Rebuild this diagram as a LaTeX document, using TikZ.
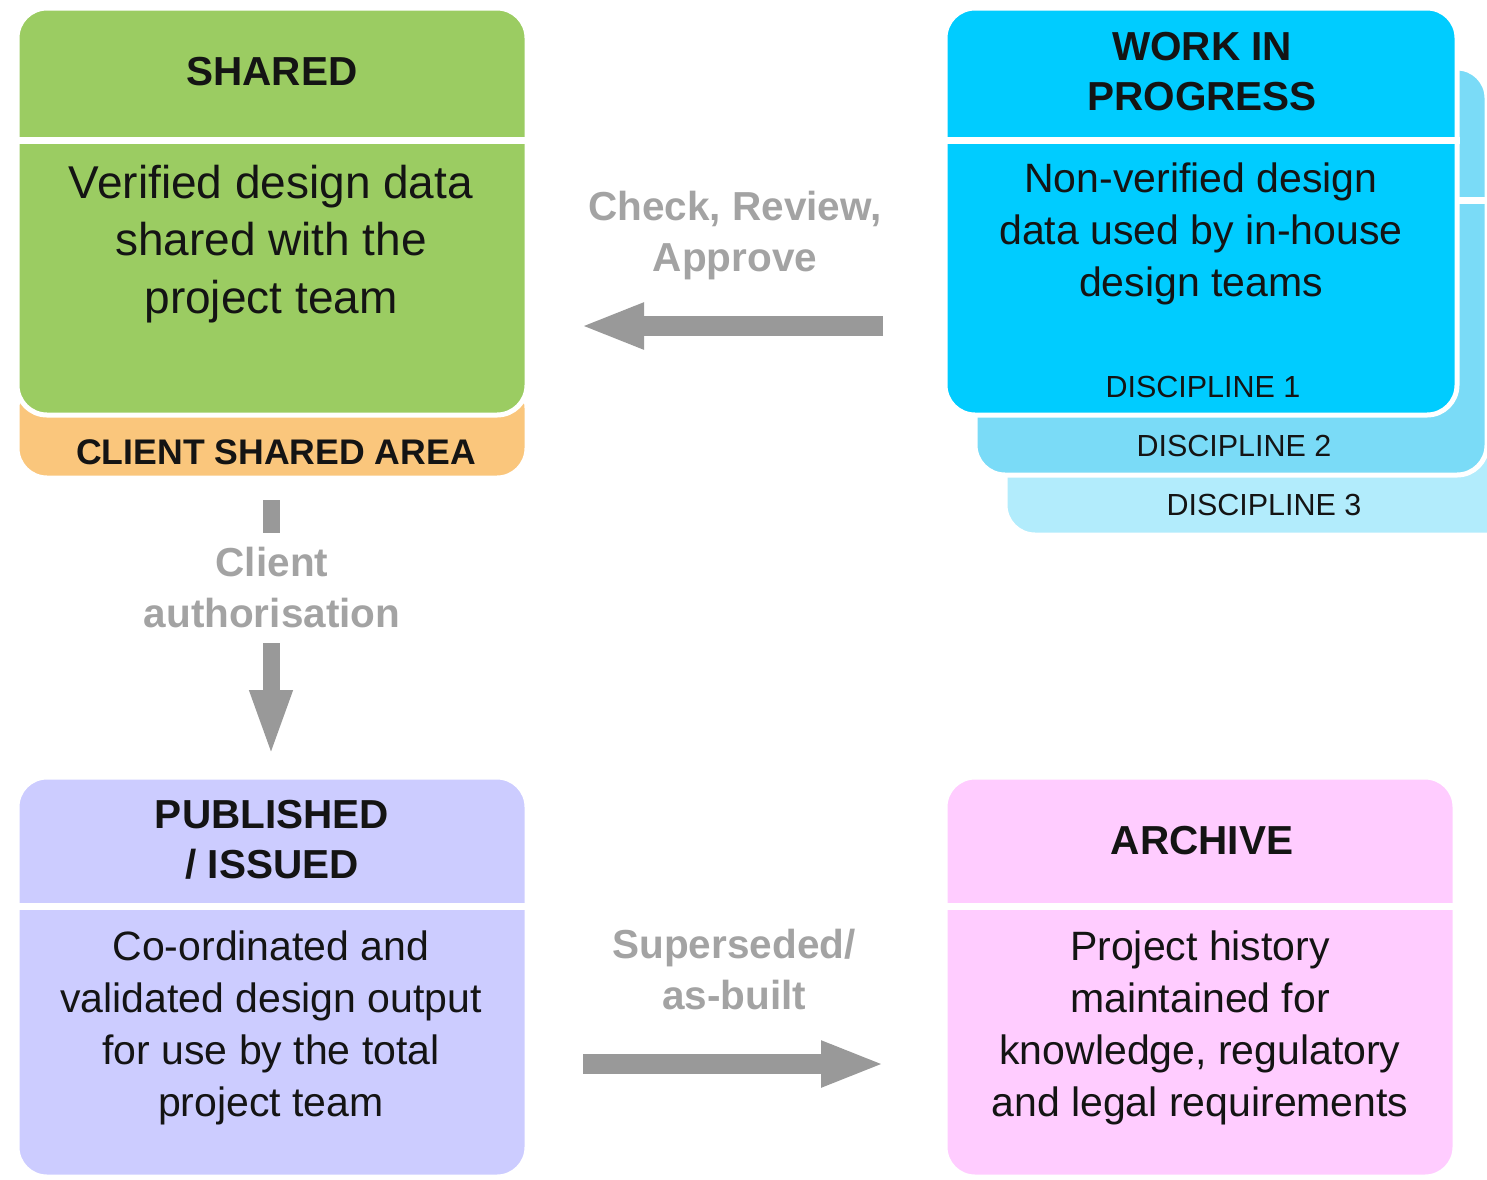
\documentclass[tikz,border=0pt]{standalone}
\usepackage{fontspec}
\setmainfont{Liberation Sans}
\usetikzlibrary{arrows.meta}
\definecolor{ink}{RGB}{20,20,20}
\definecolor{sharedgreen}{RGB}{155,204,98}
\definecolor{clientorange}{RGB}{250,198,124}
\definecolor{wipcyan}{RGB}{0,204,255}
\definecolor{wipcyanB}{RGB}{122,219,247}
\definecolor{wipcyanC}{RGB}{178,236,252}
\definecolor{publav}{RGB}{204,204,255}
\definecolor{archpink}{RGB}{255,204,255}
\definecolor{flowgrey}{RGB}{153,153,153}
\definecolor{labelgrey}{RGB}{163,163,163}
\begin{document}
\begin{tikzpicture}[x=1pt,y=-1pt,
  panel/.style={draw=white, line width=5pt, rounded corners=30pt, inner sep=0pt,
                minimum width=512pt, minimum height=407pt},
  divider/.style={draw=white, line width=7pt},
  ttl/.style={font=\fontsize{40.5}{50}\selectfont\bfseries, text=ink, align=center},
  body/.style={font=\fontsize{41}{52}\selectfont, text=ink, align=center},
  bigbody/.style={font=\fontsize{46}{57.5}\selectfont, text=ink, align=center},
  disc/.style={font=\fontsize{30.5}{36}\selectfont, text=ink},
  flowlbl/.style={font=\fontsize{40.5}{51}\selectfont\bfseries, text=labelgrey, align=center},
  flowarrow/.style={draw=flowgrey, line width=20pt,
                    -{Triangle[length=64pt,width=42pt]}},
  vflowarrow/.style={draw=flowgrey, line width=17pt,
                    -{Triangle[length=68pt,width=38pt]}},
]
\clip (0,0) rectangle (1487,1179);

% ---- Shared container with client shared area underneath
\node[panel, fill=clientorange, minimum width=510pt, minimum height=100pt]
  (client) at (272,428) {};
\node[panel, fill=sharedgreen, minimum width=510pt] (shared) at (272,211.5) {};
\draw[divider] (shared.west |- 0,140) -- (shared.east |- 0,140);
\node[ttl] (sharedttl) at (272,72) {SHARED};
\node[bigbody] (sharedtxt) at (271,244)
  {Verified design data\\shared with the\\project team};
\node[font=\fontsize{35.6}{42}\selectfont\bfseries, text=ink]
  (clienttxt) at (276,452) {CLIENT SHARED AREA};

% ---- Work in progress: one sheet per discipline
\node[panel, fill=wipcyanC] (wip3) at (1261,331.5) {};
\node[panel, fill=wipcyanB] (wip2) at (1231,271.5) {};
\draw[divider] (wip2.west |- 0,200) -- (wip2.east |- 0,200);
\node[panel, fill=wipcyan] (wip1) at (1201,211.5) {};
\draw[divider] (wip1.west |- 0,140) -- (wip1.east |- 0,140);
\node[ttl] (wipttl) at (1202,72) {WORK IN\\PROGRESS};
\node[body] (wiptxt) at (1201,234)
  {Non-verified design\\data used by in-house\\design teams};
\node[disc] (d1) at (1203,387) {DISCIPLINE 1};
\node[disc] (d2) at (1234,446) {DISCIPLINE 2};
\node[disc] (d3) at (1264,505) {DISCIPLINE 3};

% ---- Published / issued
\node[panel, fill=publav, minimum width=510pt, minimum height=400pt]
  (pub) at (272,977) {};
\draw[divider] (pub.west |- 0,906) -- (pub.east |- 0,906);
\node[ttl] (pubttl) at (272,840) {PUBLISHED\\/ ISSUED};
\node[body] (pubtxt) at (271,1028)
  {Co-ordinated and\\validated design output\\for use by the total\\project team};

% ---- Archive
\node[panel, fill=archpink, minimum width=510pt, minimum height=400pt]
  (arch) at (1200,977) {};
\draw[divider] (arch.west |- 0,906) -- (arch.east |- 0,906);
\node[ttl] (archttl) at (1202,841) {ARCHIVE};
\node[body] (archtxt) at (1200,1028)
  {Project history\\maintained for\\knowledge, regulatory\\and legal requirements};

% ---- Flow between the areas
\node[flowlbl] (checklbl) at (735,236) {Check, Review,\\Approve};
\coordinate (checkfrom) at (883,326);
\coordinate (checkto) at (580,326);
\draw[flowarrow] (checkfrom) -- (checkto);

\node[flowlbl] (authlbl) at (272,588) {Client\\authorisation};
\coordinate (authA) at (271,500);
\coordinate (authB) at (271,533);
\coordinate (authC) at (271,643);
\coordinate (authD) at (271,758);
\draw[draw=flowgrey, line width=17pt] (authA) -- (authB);
\draw[vflowarrow] (authC) -- (authD);

\node[flowlbl] (suplbl) at (734,970) {Superseded/\\as-built};
\coordinate (supfrom) at (583,1064);
\coordinate (supto) at (885,1064);
\draw[flowarrow] (supfrom) -- (supto);
\end{tikzpicture}
\end{document}
